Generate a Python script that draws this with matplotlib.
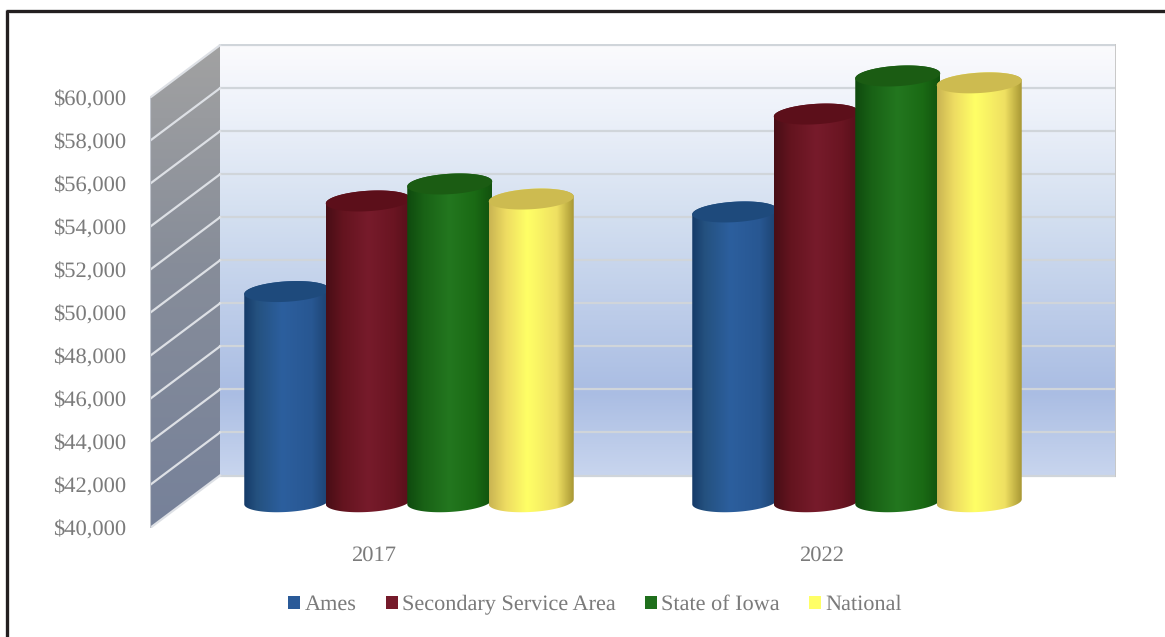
#!/usr/bin/env python3
"""Cylinder column chart of income for Ames, service area, Iowa and the US."""

import numpy as np
import matplotlib
matplotlib.use("Agg")
import matplotlib.pyplot as plt
from matplotlib.colors import LinearSegmentedColormap
from matplotlib.lines import Line2D
from matplotlib.patches import Patch, PathPatch, Polygon
from matplotlib.path import Path
from matplotlib.ticker import FuncFormatter

plt.rcParams['font.family'] = ['Liberation Serif', 'DejaVu Serif']
plt.rcParams['text.hinting'] = 'no_hinting'

YEARS = ['2017', '2022']
SERIES = ['Ames', 'Secondary Service Area', 'State of Iowa', 'National']
AMES = [49770, 53470]
SECONDARY = [53980, 58020]
IOWA = [54770, 59790]
NATIONAL = [54070, 59470]
Y_TICKS = list(range(40000, 60001, 2000))

W, H = 1165, 637
# plot area in pixels: front left edge x=150, back wall right edge x=1116
LEFT, RIGHT, TOP, BOTTOM = 150, 1116, 44, 528
PX_X = 448.0            # pixels per category
PX_Y = 430.3 / 20000    # pixels per dollar
DX = 70 / PX_X          # depth shift in data units
DY = 52.5 / PX_Y
CAP_RX = 41.3 / PX_X    # cap half width
CAP_RY = 10.5 / PX_Y    # cap half height
CAP_TILT = 10 / PX_X    # lean of the cap ellipse
PITCH = 81.5 / PX_X
TICK_FONT = 16.2
LEGEND_FONT = 16

GREY = '#7b7b7b'
LEGEND_COLORS = ['#2a5a98', '#751a2a', '#1f6f1c', '#ffff66']
SIDE_STOPS = [
    [(0, '#153a68'), (0.15, '#24517f'), (0.45, '#2c5f9e'), (0.8, '#285792'), (1, '#1c4270')],
    [(0, '#480e16'), (0.2, '#64141f'), (0.5, '#771b2b'), (0.8, '#6a1522'), (1, '#560f1a')],
    [(0, '#0f4a0e'), (0.2, '#196216'), (0.5, '#23771f'), (0.8, '#1a6a14'), (1, '#12520e')],
    [(0, '#c9b452'), (0.2, '#eedc62'), (0.45, '#ffff66'), (0.8, '#efe062'), (1, '#a89734')],
]
CAP_COLORS = ['#1e4a7c', '#5c0f1a', '#1b5c13', '#cdbb50']


def depth_x(x, d):
    return x + DX * d


def depth_y(y, d):
    return y + DY * d


def gradient_in(ax, stops, extent, clip_points, horizontal, zorder):
    """Fill a polygon with a linear gradient through an image clipped to it."""
    cmap = LinearSegmentedColormap.from_list('g', stops)
    ramp = np.linspace(0, 1, 256)
    ramp = ramp[np.newaxis, :] if horizontal else ramp[:, np.newaxis]
    im = ax.imshow(ramp, cmap=cmap, extent=extent, aspect='auto',
                   origin='upper', zorder=zorder, interpolation='bilinear')
    clip = PathPatch(Path(clip_points, closed=False), transform=ax.transData)
    im.set_clip_path(clip)


def ellipse(cx, v, t):
    # cylinders stand halfway along the floor depth
    return (depth_x(cx, 0.5) + CAP_RX * np.cos(t) + CAP_TILT * np.sin(t),
            depth_y(v, 0.5) + CAP_RY * np.sin(t))


def draw_cylinder(ax, cx, value, stops, cap, zorder):
    t0 = np.arctan2(CAP_TILT, CAP_RX)
    low = np.linspace(t0 + np.pi, t0 + 2 * np.pi, 60)
    high = np.linspace(t0, t0 + np.pi, 60)
    bx, by = ellipse(cx, Y_TICKS[0], low)
    tx, ty = ellipse(cx, value, high)
    pts = np.column_stack([np.r_[bx, tx], np.r_[by, ty]])
    extent = [pts[:, 0].min(), pts[:, 0].max(), Y_TICKS[0], value + DY]
    gradient_in(ax, stops, extent, pts, True, zorder)
    t = np.linspace(0, 2 * np.pi, 120)
    ex, ey = ellipse(cx, value, t)
    ax.add_patch(Polygon(np.column_stack([ex, ey]), closed=True, fc=cap,
                         ec='none', zorder=zorder + 0.1))


def main():
    fig = plt.figure(figsize=(W / 100, H / 100), dpi=100, facecolor='white')
    ax = fig.add_axes([LEFT / W, 1 - BOTTOM / H, (RIGHT - LEFT) / W, (BOTTOM - TOP) / H])
    ymin, ymax = Y_TICKS[0], Y_TICKS[-1]
    ax.set_xlim(0, (RIGHT - LEFT) / PX_X)
    ax.set_ylim(ymin, ymin + (BOTTOM - TOP) / PX_Y)
    ax.autoscale(False)
    for s in ax.spines.values():
        s.set_visible(False)
    ax.patch.set_alpha(0)

    centers = [0.5, 1.5]
    ax.set_xticks(centers, YEARS)
    ax.set_yticks(Y_TICKS)
    ax.yaxis.set_major_formatter(FuncFormatter(lambda v, _: f"${v:,.0f}"))
    ax.tick_params(axis='both', length=0, colors=GREY, labelsize=TICK_FONT)
    ax.tick_params(axis='y', pad=17.5)
    ax.tick_params(axis='x', pad=12.5)

    # back wall, stops run top to bottom
    back_stops = [(0, '#fbfbfd'), (0.15, '#eef2fa'), (0.4, '#d3dff0'), (0.81, '#aabde3'), (1, '#c8d5ee')]
    x0, x1 = depth_x(0, 1), depth_x(2, 1)
    y0, y1 = depth_y(ymin, 1), depth_y(ymax, 1)
    gradient_in(ax, back_stops, [x0, x1, y0, y1],
                [(x0, y0), (x1, y0), (x1, y1), (x0, y1), (x0, y0)], False, 1)

    # side wall
    side_stops = [(0, '#a2a2a2'), (0.45, '#878d99'), (1, '#76819a')]
    side = [(0, ymin), (x0, y0), (x0, y1), (0, ymax), (0, ymin)]
    gradient_in(ax, side_stops, [0, x0, ymin, y1], side, False, 1)

    # gridlines
    for v in Y_TICKS:
        ax.plot([x0, x1], [depth_y(v, 1)] * 2, color='#d0d5da', lw=1.6, zorder=2)
        ax.plot([0, x0], [v, depth_y(v, 1)], color='#dde0e5', lw=1.6, zorder=2)
    ax.plot([x1, x1], [y0, y1], color='#c8c8c8', lw=1.4, zorder=2)
    ax.plot([0, 0], [ymin, ymax], color='#c0c4cc', lw=0.8, zorder=2)

    # cylinders, left to right so each one overlaps the previous
    values = [AMES, SECONDARY, IOWA, NATIONAL]
    z = 3
    for g, c in enumerate(centers):
        for i, vals in enumerate(values):
            cx = c + (i - 1.5) * PITCH
            draw_cylinder(ax, cx, vals[g], SIDE_STOPS[i], CAP_COLORS[i], z)
            z += 1

    handles = [Patch(fc=col, ec='none') for col in LEGEND_COLORS]
    fig.legend(handles, SERIES, ncol=4, frameon=False, loc='center',
               bbox_to_anchor=(595 / W, 1 - 605 / H), fontsize=LEGEND_FONT,
               labelcolor=GREY, handlelength=0.54, handleheight=0.54,
               handletextpad=0.2, columnspacing=1.3, borderpad=0)

    # outer frame: only left and top edges reach into the picture
    frame_x = [6.5 / W, 6.5 / W, 1]
    frame_y = [0, 1 - 11 / H, 1 - 11 / H]
    fig.add_artist(Line2D(frame_x, frame_y, transform=fig.transFigure, color='#dddddd', lw=3.4))
    fig.add_artist(Line2D(frame_x, frame_y, transform=fig.transFigure, color='#231f20', lw=2.2))

    fig.savefig('out.png', dpi=100, facecolor='white')


if __name__ == "__main__":
    main()
